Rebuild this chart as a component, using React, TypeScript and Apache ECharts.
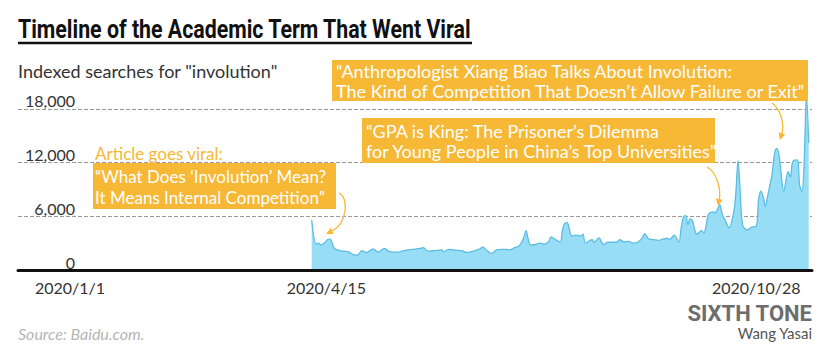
import React, { useEffect, useRef } from 'react';
import * as echarts from 'echarts';

const dates = [
  '2020-04-16', '2020-04-18', '2020-04-19', '2020-04-20', '2020-04-22', '2020-04-23', '2020-04-24', '2020-04-25',
  '2020-04-26', '2020-04-28', '2020-04-30', '2020-05-02', '2020-05-04', '2020-05-06', '2020-05-08', '2020-05-10',
  '2020-05-12', '2020-05-13', '2020-05-15', '2020-05-17', '2020-05-18', '2020-05-20', '2020-05-22', '2020-05-24',
  '2020-05-26', '2020-05-28', '2020-05-30', '2020-06-01', '2020-06-03', '2020-06-04', '2020-06-06', '2020-06-08',
  '2020-06-10', '2020-06-12', '2020-06-13', '2020-06-15', '2020-06-17', '2020-06-19', '2020-06-21', '2020-06-23',
  '2020-06-25', '2020-06-27', '2020-06-29', '2020-06-30', '2020-07-02', '2020-07-04', '2020-07-06', '2020-07-08',
  '2020-07-10', '2020-07-12', '2020-07-14', '2020-07-16', '2020-07-18', '2020-07-19', '2020-07-20', '2020-07-21',
  '2020-07-23', '2020-07-25', '2020-07-27', '2020-07-29', '2020-07-30', '2020-08-01', '2020-08-03', '2020-08-04',
  '2020-08-05', '2020-08-06', '2020-08-07', '2020-08-08', '2020-08-10', '2020-08-12', '2020-08-13', '2020-08-14',
  '2020-08-16', '2020-08-17', '2020-08-18', '2020-08-20', '2020-08-22', '2020-08-24', '2020-08-26', '2020-08-28',
  '2020-08-29', '2020-08-31', '2020-09-02', '2020-09-04', '2020-09-06', '2020-09-08', '2020-09-09', '2020-09-11',
  '2020-09-13', '2020-09-15', '2020-09-17', '2020-09-19', '2020-09-20', '2020-09-22', '2020-09-24', '2020-09-25',
  '2020-09-26', '2020-09-27', '2020-09-28', '2020-09-29', '2020-09-30', '2020-10-01', '2020-10-02', '2020-10-04',
  '2020-10-05', '2020-10-06', '2020-10-07', '2020-10-09', '2020-10-10', '2020-10-11', '2020-10-12', '2020-10-13',
  '2020-10-15', '2020-10-16', '2020-10-18', '2020-10-19', '2020-10-20', '2020-10-21', '2020-10-22', '2020-10-24',
  '2020-10-26', '2020-10-28', '2020-10-29', '2020-10-30', '2020-10-31', '2020-11-01', '2020-11-02', '2020-11-03',
  '2020-11-04', '2020-11-05', '2020-11-06', '2020-11-07', '2020-11-08', '2020-11-09', '2020-11-11', '2020-11-12',
  '2020-11-13', '2020-11-15', '2020-11-16', '2020-11-17', '2020-11-18', '2020-11-19', '2020-11-20',
];

const searches = [
  5600, 2900, 3000, 2800, 3100, 3400, 3450, 3000,
  2400, 2200, 2100, 2050, 1750, 1650, 2150, 1950,
  2250, 2350, 2000, 2300, 2400, 2050, 2000, 2000,
  2150, 2250, 2300, 2350, 2450, 2500, 2100, 2150,
  2200, 2250, 2000, 2300, 2250, 2200, 2150, 1950,
  2050, 2200, 2400, 2550, 2150, 1850, 2250, 2300,
  2300, 2250, 2500, 2700, 3600, 4400, 3400, 2800,
  2850, 3000, 2900, 3200, 3700, 3400, 3100, 4500,
  5200, 5300, 4600, 3800, 3900, 3800, 4000, 3000,
  3300, 3400, 3100, 3600, 2850, 3100, 3100, 3100,
  3400, 3150, 3200, 3000, 3100, 3600, 4050, 3450,
  3400, 3300, 3450, 3550, 3400, 3900, 3100, 4600,
  5900, 6100, 5100, 5700, 5500, 4500, 4000, 4400,
  4100, 5000, 6200, 6500, 6400, 6800, 7300, 6300,
  5200, 4700, 6300, 8500, 12200, 8500, 5000, 4500,
  4800, 4900, 7800, 8800, 8200, 7100, 8300, 9500,
  10800, 13000, 13600, 12800, 10500, 8800, 11000, 10400,
  12100, 12300, 9500, 8800, 12100, 19500, 14200,
];

const xTickDates = ['2020-01-01', '2020-04-15', '2020-10-28'];
const xTickLabels = ['2020/1/1', '2020/4/15', '2020/10/28'];
const yTicks = [0, 6000, 12000, 18000];

const TITLE = 'Timeline of the Academic Term That Went Viral';
const SUBTITLE = 'Indexed searches for "involution"';
const NOTE_TOP = '\u201CAnthropologist Xiang Biao Talks About Involution:\nThe Kind of Competition That Doesn\u2019t Allow Failure or Exit\u201D';
const NOTE_MID = '\u201CGPA is King: The Prisoner\u2019s Dilemma\nfor Young People in China\u2019s Top Universities\u201D';
const NOTE_LEFT_HEAD = 'Article goes viral:';
const NOTE_LEFT = '\u201CWhat Does \u2018Involution\u2019 Mean?\nIt Means Internal Competition\u201D';
const SOURCE = 'Source: Baidu.com.';
const BRAND = 'SIXTH TONE';
const AUTHOR = 'Wang Yasai';

const W = 830;
const H = 357;
const ORANGE = '#F6B835';

// days since 2020-01-01
function dayOf(s: string) {
  const [y, m, d] = s.split('-').map(Number);
  return Math.round((Date.UTC(y, m - 1, d) - Date.UTC(2020, 0, 1)) / 86400000);
}

function arrow(p0: number[], c1: number[], c2: number[], tip: number[]) {
  const dx = tip[0] - c2[0];
  const dy = tip[1] - c2[1];
  const len = Math.sqrt(dx * dx + dy * dy) || 1;
  const ux = dx / len;
  const uy = dy / len;
  const L = 7;
  const hw = 3.5;
  const bx = tip[0] - ux * L;
  const by = tip[1] - uy * L;
  return [
    {
      type: 'bezierCurve',
      shape: { x1: p0[0], y1: p0[1], cpx1: c1[0], cpy1: c1[1], cpx2: c2[0], cpy2: c2[1], x2: bx, y2: by },
      style: { stroke: ORANGE, lineWidth: 1.3, fill: null },
      z: 100,
    },
    {
      type: 'polygon',
      shape: { points: [[tip[0], tip[1]], [bx - uy * hw, by + ux * hw], [bx + uy * hw, by - ux * hw]] },
      style: { fill: ORANGE },
      z: 100,
    },
  ];
}

export default function App() {
  const ref = useRef<HTMLDivElement>(null);
  useEffect(() => {
    if (!ref.current) return;
    const chart = echarts.init(ref.current, null, { renderer: 'svg', width: W, height: H });
    const plotLeft = 18;
    const plotRight = 812;
    const day0X = 70;
    const pxPerDay = 2.28;
    const xMin = (plotLeft - day0X) / pxPerDay;
    const xMax = (plotRight - day0X) / pxPerDay;
    const tickDays = xTickDates.map(dayOf);

    const cv = document.createElement('canvas').getContext('2d');
    let titleScale = 0.76;
    if (cv) {
      cv.font = 'bold 26px Roboto';
      const tw = cv.measureText(TITLE).width;
      if (tw > 0) titleScale = 454 / tw;
    }

    const lato = 'Lato, "Noto Sans", sans-serif';

    const option: any = {
      animation: false,
      backgroundColor: '#ffffff',
      grid: { left: plotLeft, right: W - plotRight, top: 91, bottom: 87, containLabel: false },
      xAxis: {
        type: 'value',
        min: xMin,
        max: xMax,
        z: 10,
        axisLine: { show: true, onZero: false, lineStyle: { color: '#111111', width: 3 } },
        axisTick: { show: false },
        splitLine: { show: false },
        axisLabel: {
          customValues: tickDays,
          margin: 9,
          fontFamily: lato,
          fontSize: 16,
          color: '#333333',
          showMinLabel: true,
          showMaxLabel: true,
          formatter: (v: number) => {
            const i = tickDays.findIndex((t) => Math.abs(t - v) < 0.5);
            if (i < 0) return '';
            if (i === 1) return '{s|' + xTickLabels[i] + '}';
            return xTickLabels[i];
          },
          rich: {
            s: { padding: [0, 0, 0, 34], fontFamily: lato, fontSize: 16, color: '#333333' },
          },
        },
      },
      yAxis: {
        type: 'value',
        min: 0,
        max: 20000,
        interval: 6000,
        axisLine: { show: false },
        axisTick: { show: false },
        splitLine: {
          show: true,
          showMinLine: false,
          showMaxLine: false,
          lineStyle: { color: '#9a9a9a', type: 'dashed', width: 1, opacity: 1 },
        },
        axisLabel: {
          inside: true,
          margin: 57,
          align: 'right',
          verticalAlign: 'bottom',
          fontFamily: lato,
          fontSize: 16,
          color: '#333333',
          showMaxLabel: false,
          formatter: (v: number) => (yTicks.indexOf(v) >= 0 ? v.toLocaleString('en-US') : ''),
        },
      },
      series: [
        {
          type: 'line',
          data: dates.map((d, i) => [dayOf(d), searches[i]]),
          smooth: 0.35,
          showSymbol: false,
          symbol: 'none',
          lineStyle: { color: '#5cbde2', width: 1.3 },
          areaStyle: { color: '#97ddf5', opacity: 1 },
          z: 2,
        },
      ],
      graphic: [
        {
          type: 'text',
          x: 18,
          y: 29,
          scaleX: titleScale,
          style: {
            text: TITLE,
            fill: '#111111',
            fontFamily: 'Roboto, sans-serif',
            fontWeight: 'bold',
            fontSize: 26,
            textAlign: 'left',
            textVerticalAlign: 'middle',
          },
        },
        { type: 'line', shape: { x1: 18, y1: 43, x2: 472, y2: 43 }, style: { stroke: '#111111', lineWidth: 2.5 } },
        {
          type: 'text',
          x: 18,
          y: 71,
          style: { text: SUBTITLE, fill: '#333333', fontFamily: lato, fontSize: 18, textAlign: 'left', textVerticalAlign: 'middle' },
        },
        { type: 'rect', shape: { x: 332, y: 60, width: 476, height: 41 }, style: { fill: ORANGE }, z: 50 },
        {
          type: 'text',
          x: 336,
          y: 61,
          z: 51,
          style: { text: NOTE_TOP, fill: '#ffffff', fontFamily: lato, fontSize: 18, lineHeight: 20, textAlign: 'left', textVerticalAlign: 'top' },
        },
        { type: 'rect', shape: { x: 362, y: 118, width: 353, height: 45 }, style: { fill: ORANGE }, z: 50 },
        {
          type: 'text',
          x: 366,
          y: 121,
          z: 51,
          style: { text: NOTE_MID, fill: '#ffffff', fontFamily: lato, fontSize: 18, lineHeight: 20, textAlign: 'left', textVerticalAlign: 'top' },
        },
        {
          type: 'text',
          x: 95,
          y: 153,
          z: 51,
          style: { text: NOTE_LEFT_HEAD, fill: ORANGE, fontFamily: lato, fontSize: 17, textAlign: 'left', textVerticalAlign: 'middle' },
        },
        { type: 'rect', shape: { x: 93, y: 163, width: 243, height: 46 }, style: { fill: ORANGE }, z: 50 },
        {
          type: 'text',
          x: 95,
          y: 166,
          z: 51,
          style: { text: NOTE_LEFT, fill: '#ffffff', fontFamily: lato, fontSize: 17, lineHeight: 21, textAlign: 'left', textVerticalAlign: 'top' },
        },
        ...arrow([339, 193], [350, 199], [346, 224], [326, 234]),
        ...arrow([707, 167], [717, 172], [721, 190], [718, 206]),
        ...arrow([772, 103], [782, 110], [784, 126], [780, 140]),
        {
          type: 'text',
          x: 18,
          y: 333,
          style: { text: SOURCE, fill: '#b5b5b5', fontFamily: lato, fontStyle: 'italic', fontSize: 16, textAlign: 'left', textVerticalAlign: 'middle' },
        },
        {
          type: 'text',
          x: 812,
          y: 313,
          style: { text: BRAND, fill: '#6d6d6d', fontFamily: 'Roboto, sans-serif', fontWeight: 'bold', fontSize: 22, textAlign: 'right', textVerticalAlign: 'middle' },
        },
        {
          type: 'text',
          x: 812,
          y: 333,
          style: { text: AUTHOR, fill: '#555555', fontFamily: lato, fontSize: 15, textAlign: 'right', textVerticalAlign: 'middle' },
        },
      ],
    };
    chart.setOption(option);
    return () => chart.dispose();
  }, []);
  return <div ref={ref} style={{ position: 'fixed', left: 0, top: 0, width: W, height: H, background: '#fff' }} />;
}
